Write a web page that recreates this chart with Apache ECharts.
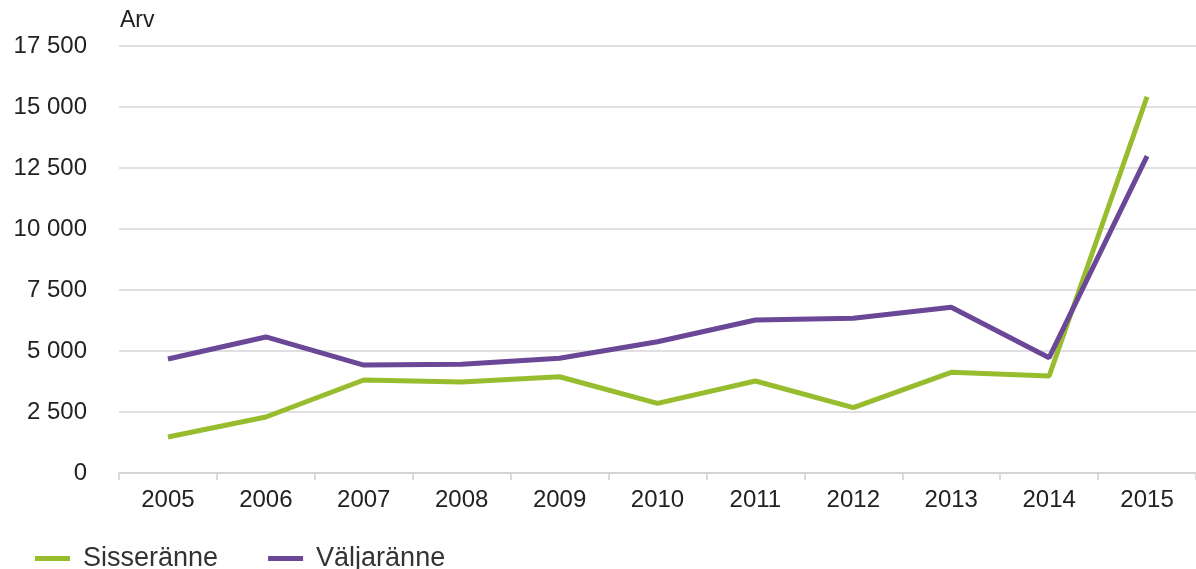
<!DOCTYPE html>
<html>
<head>
<meta charset="utf-8">
<script src="https://cdn.jsdelivr.net/npm/echarts@6/dist/echarts.min.js"></script>
<style>
html,body{margin:0;padding:0;background:#fff;}
#chart{width:1196px;height:569px;}
</style>
</head>
<body>
<div id="chart"></div>
<script>
const years = ['2005','2006','2007','2008','2009','2010','2011','2012','2013','2014','2015'];
const sisseranne = [1475, 2295, 3810, 3730, 3945, 2855, 3770, 2680, 4125, 3975, 15420];
const valjaranne = [4670, 5575, 4425, 4455, 4700, 5380, 6270, 6340, 6790, 4725, 12990];
const yTicks = [0, 2500, 5000, 7500, 10000, 12500, 15000, 17500];

function fmt(v){ return String(v).replace(/\B(?=(\d{3})+(?!\d))/g, ' '); }

const FONT = 'Liberation Sans, Arial, sans-serif';
const chart = echarts.init(document.getElementById('chart'));
chart.setOption({
  animation: false,
  textStyle: { fontFamily: FONT },
  grid: { left: 119, right: 0, top: 46, bottom: 96 },
  legend: {
    left: 35, top: 545, padding: 0,
    itemWidth: 35, itemHeight: 5, itemGap: 50,
    icon: 'rect',
    textStyle: { fontSize: 27, color: '#333', fontFamily: FONT, padding: [0, 0, 0, 8] },
    data: ['Sisseränne', 'Väljaränne']
  },
  xAxis: {
    type: 'category',
    data: years,
    boundaryGap: true,
    axisLine: { lineStyle: { color: '#d0d0d0', width: 1.5 } },
    axisTick: { show: true, length: 7, lineStyle: { color: '#d0d0d0', width: 1.5 } },
    axisLabel: { fontSize: 24, color: '#222', margin: 15 }
  },
  yAxis: {
    type: 'value',
    min: yTicks[0], max: yTicks[yTicks.length - 1], interval: 2500,
    name: 'Arv',
    nameLocation: 'end',
    nameGap: 14,
    nameTextStyle: { fontSize: 23, color: '#222', align: 'left', padding: [0, 0, 0, 1] },
    axisLine: { show: false },
    axisTick: { show: false },
    axisLabel: { fontSize: 24, color: '#222', margin: 32, formatter: fmt },
    splitLine: { lineStyle: { color: '#d6d6d6', width: 1.5 } }
  },
  series: [
    {
      name: 'Sisseränne', type: 'line', data: sisseranne,
      symbol: 'none', itemStyle: { color: '#97bd2e' },
      lineStyle: { color: '#97bd2e', width: 5 }
    },
    {
      name: 'Väljaränne', type: 'line', data: valjaranne,
      symbol: 'none', itemStyle: { color: '#6b4797' },
      lineStyle: { color: '#6b4797', width: 5 }
    }
  ]
});
</script>
</body>
</html>
